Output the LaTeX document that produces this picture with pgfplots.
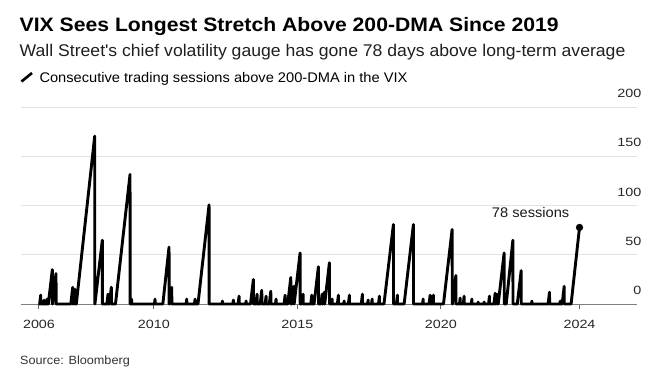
\documentclass[border=0pt]{standalone}
\usepackage{pgfplots}
\pgfplotsset{compat=1.18}
\usepackage{fontspec}
\setmainfont{Liberation Sans}
\newfontfamily\tickfont[FakeStretch=1.2]{Liberation Sans}
\newfontfamily\titlefont[FakeStretch=1.09]{Liberation Sans}
\newfontfamily\subfont[FakeStretch=1.04]{Liberation Sans}
\newfontfamily\legfont[FakeStretch=1.05]{Liberation Sans}
\newfontfamily\srcfont[FakeStretch=1.06]{Liberation Sans}
\begin{document}
\begin{tikzpicture}
\useasboundingbox (0,0) rectangle (670bp,-386bp);
\node[anchor=base west, inner sep=0pt, font=\titlefont\fontsize{19.5}{22}\selectfont\bfseries] at (19.5bp,-31bp) {VIX Sees Longest Stretch Above 200-DMA Since 2019};
\node[anchor=base west, inner sep=0pt, font=\subfont\fontsize{17}{20}\selectfont, text=black!88] at (19.5bp,-56.7bp) {Wall Street\textquotesingle s chief volatility gauge has gone 78 days above long-term average};
\draw[line width=2.6bp] (21.5bp,-81.5bp) -- (32bp,-73bp);
\node[anchor=base west, inner sep=0pt, font=\legfont\fontsize{14}{16}\selectfont] at (39.3bp,-82bp) {Consecutive trading sessions above 200-DMA in the VIX};
\node[anchor=base west, inner sep=0pt, font=\srcfont\fontsize{12}{14}\selectfont, text=black!80] at (20bp,-364.7bp) {Source: Bloomberg};
\begin{axis}[
  at={(21bp,-304bp)}, anchor=south west,
  scale only axis, width=616bp, height=196.3bp,
  xmin=2005.373, xmax=2026.836, ymin=0, ymax=200,
  axis line style={draw=none},
  clip=false,
  scaled ticks=false,
  /pgf/number format/assume math mode=true,
  ytick={0,50,100,150,200},
  yticklabel pos=right,
  ymajorgrids,
  grid style={color=black!11, line width=1bp},
  y tick style={draw=none},
  yticklabel style={anchor=south east, inner sep=0pt, font=\tickfont\fontsize{12}{14}\selectfont, text=black!85, yshift=9.5bp},
  extra y ticks={0},
  extra y tick labels={},
  extra y tick style={grid style={color=black!50, line width=1bp}},
  xtick={2006,2010,2015,2020,2024.833},
  xticklabels={2006,2010,2015,2020,2024},
  xtick pos=bottom,
  tick align=outside,
  major tick length=4.5bp,
  x tick style={draw=black!60, line width=1bp},
  xticklabel style={anchor=north, inner sep=0pt, font=\tickfont\fontsize{12}{14}\selectfont, text=black!85, yshift=-11.5bp},
]
\addplot[black, line width=2.9bp, line join=round] coordinates {
(2005.98,0)
(2006.023,0)(2006.059,9)(2006.063,0)
(2006.158,0)(2006.174,4)(2006.178,0)
(2006.259,0)(2006.279,5)(2006.283,0)
(2006.325,0)(2006.464,35)(2006.468,0)
(2006.470,0)(2006.593,31)(2006.597,0)
(2007.108,0)(2007.175,17)(2007.179,0)
(2007.196,0)(2007.255,15)(2007.259,0)
(2007.30,0)(2007.941,171)(2007.945,0)
(2007.948,0)(2008.206,65)(2008.210,0)
(2008.365,0)(2008.405,10)(2008.409,0)
(2008.453,0)(2008.520,17)(2008.524,0)
(2008.665,0)(2009.172,132)(2009.176,0)
(2009.204,0)(2009.224,5)(2009.228,0)
(2010.023,0)(2010.043,5)(2010.047,0)
(2010.315,0)(2010.531,58)(2010.535,0)
(2010.558,0)(2010.625,17)(2010.629,0)
(2011.128,0)(2011.148,5)(2011.152,0)
(2011.417,0)(2011.437,5)(2011.441,0)
(2011.54,0)(2011.925,101)(2011.929,0)
(2012.377,0)(2012.389,3)(2012.393,0)
(2012.756,0)(2012.772,4)(2012.776,0)
(2012.939,0)(2012.971,8)(2012.975,0)
(2013.203,0)(2013.215,3)(2013.219,0)
(2013.370,0)(2013.469,25)(2013.473,0)
(2013.558,0)(2013.598,10)(2013.602,0)
(2013.706,0)(2013.762,14)(2013.766,0)
(2013.880,0)(2013.912,8)(2013.916,0)
(2014.024,0)(2014.076,13)(2014.080,0)
(2014.241,0)(2014.261,5)(2014.265,0)
(2014.539,0)(2014.575,9)(2014.579,0)
(2014.666,0)(2014.773,27)(2014.777,0)
(2014.81,0)(2014.880,18)(2014.884,0)
(2014.89,0)(2015.097,52)(2015.101,0)
(2015.162,0)(2015.202,10)(2015.206,0)
(2015.469,0)(2015.505,9)(2015.509,0)
(2015.584,0)(2015.735,38)(2015.739,0)
(2015.824,0)(2015.864,10)(2015.868,0)
(2015.892,0)(2015.940,12)(2015.944,0)
(2015.955,0)(2016.118,42)(2016.122,0)
(2016.193,0)(2016.213,5)(2016.217,0)
(2016.396,0)(2016.432,9)(2016.436,0)
(2016.619,0)(2016.631,3)(2016.635,0)
(2016.780,0)(2016.816,9)(2016.820,0)
(2017.229,0)(2017.269,10)(2017.273,0)
(2017.451,0)(2017.467,4)(2017.471,0)
(2017.587,0)(2017.607,5)(2017.611,0)
(2017.829,0)(2017.861,8)(2017.865,0)
(2018.02,0)(2018.349,81)(2018.353,0)
(2018.453,0)(2018.489,9)(2018.493,0)
(2018.722,0)(2019.046,81)(2019.050,0)
(2019.364,0)(2019.384,5)(2019.388,0)
(2019.592,0)(2019.628,9)(2019.632,0)
(2019.707,0)(2019.743,9)(2019.747,0)
(2020.093,0)(2020.395,76)(2020.399,0)
(2020.409,0)(2020.524,29)(2020.528,0)
(2020.650,0)(2020.674,6)(2020.678,0)
(2020.781,0)(2020.813,8)(2020.817,0)
(2021.062,0)(2021.082,5)(2021.086,0)
(2021.293,0)(2021.301,2)(2021.305,0)
(2021.503,0)(2021.511,2)(2021.515,0)
(2021.663,0)(2021.695,8)(2021.699,0)
(2021.850,0)(2021.894,11)(2021.898,0)
(2021.923,0)(2021.963,10)(2021.967,0)
(2022.0,0)(2022.207,52)(2022.211,0)
(2022.28,0)(2022.511,65)(2022.515,0)
(2022.665,0)(2022.800,34)(2022.804,0)
(2023.161,0)(2023.173,3)(2023.177,0)
(2023.739,0)(2023.787,12)(2023.791,0)
(2024.148,0)(2024.160,3)(2024.164,0)
(2024.228,0)(2024.299,18)(2024.303,0)
(2024.54,0)(2024.833,78)
};
\addplot[only marks, mark=*, mark size=3.4bp, black] coordinates {(2024.833,78)};
\node[anchor=base east, inner sep=0pt, font=\legfont\fontsize{14}{16}\selectfont, text=black!90] at ([xshift=-10bp,yshift=9.5bp]axis cs:2024.833,78) {78 sessions};
\end{axis}
\end{tikzpicture}
\end{document}
